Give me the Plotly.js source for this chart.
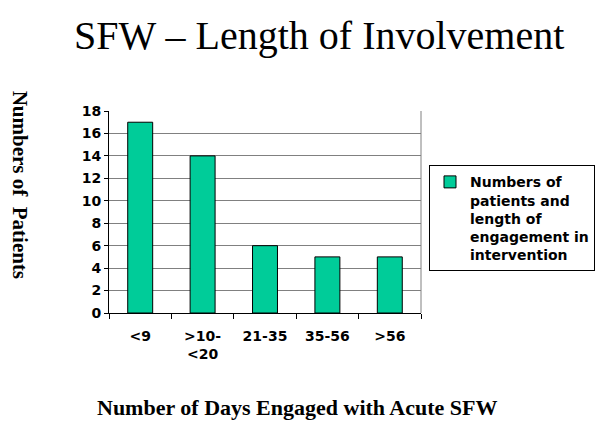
<!DOCTYPE html>
<html>
<head>
<meta charset="utf-8">
<script src="https://cdn.plot.ly/plotly-3.0.1.min.js"></script>
<style>
  html, body { margin: 0; padding: 0; background: #ffffff; }
  #chart { width: 600px; height: 426px; }
</style>
</head>
<body>
<div id="chart"></div>
<script>
// categories and values
const dayRanges = ["<9", ">10-<br><20", "21-35", "35-56", ">56"];
const patientCounts = [17, 14, 6, 5, 5];
const seriesName = "<b>Numbers of<br>patients and<br>length of<br>engagement in<br>intervention</b>";
const yTicks = [0, 2, 4, 6, 8, 10, 12, 14, 16, 18];

const sansBold = { family: "DejaVu Sans, Arial, sans-serif", size: 14, color: "#000000", weight: "bold" };

const barTrace = {
  x: dayRanges,
  y: patientCounts,
  type: "bar",
  name: seriesName,
  width: 0.4,
  marker: { color: "#00cc99", line: { color: "#000000", width: 1 } },
  showlegend: true,
};

const layout = {
  width: 600,
  height: 426,
  margin: { l: 109, r: 179, t: 111, b: 113, autoexpand: false },
  paper_bgcolor: "#ffffff",
  plot_bgcolor: "#ffffff",
  title: {
    text: "SFW – Length of Involvement",
    font: { family: "Liberation Serif, Times New Roman, serif", size: 40, color: "#000000" },
    x: 0.532,
    xanchor: "center",
    y: 0.918,
    yanchor: "middle",
  },
  xaxis: {
    type: "category",
    showline: true,
    linecolor: "#000000",
    linewidth: 1,
    ticks: "outside",
    tickson: "boundaries",
    ticklen: 5,
    tickcolor: "#000000",
    tickvals: dayRanges,
    ticktext: dayRanges.map(d => "<b>" + d.replace("<br>", "</b><br><b>") + "</b>"),
    ticklabelstandoff: 10,
    tickfont: sansBold,
  },
  yaxis: {
    range: [0, 18],
    tickvals: yTicks,
    ticktext: yTicks.map(v => "<b>" + v + "</b>"),
    showline: true,
    linecolor: "#000000",
    linewidth: 1,
    ticks: "outside",
    ticklen: 4,
    tickcolor: "#000000",
    showgrid: true,
    gridcolor: "#808080",
    gridwidth: 1,
    zeroline: false,
    tickfont: sansBold,
  },
  shapes: [
    { type: "line", xref: "paper", yref: "paper", x0: 1, x1: 1, y0: 0, y1: 1, line: { color: "#808080", width: 1 } },
  ],
  annotations: [
    {
      text: "<b>Numbers of  Patients</b>",
      xref: "paper", yref: "paper",
      x: -0.285, y: 0.635,
      xanchor: "center", yanchor: "middle",
      textangle: 90,
      showarrow: false,
      font: { family: "Liberation Serif, Times New Roman, serif", size: 21, color: "#000000" },
    },
    {
      text: "<b>Number of Days Engaged with Acute SFW</b>",
      xref: "paper", yref: "paper",
      x: 0.605, y: -0.47,
      xanchor: "center", yanchor: "middle",
      showarrow: false,
      font: { family: "Liberation Serif, Times New Roman, serif", size: 22, color: "#000000" },
    },
  ],
  legend: {
    xref: "container",
    yref: "container",
    x: 0.715,
    y: 0.612,
    xanchor: "left",
    yanchor: "top",
    valign: "top",
    bgcolor: "#ffffff",
    bordercolor: "#000000",
    borderwidth: 1,
    font: sansBold,
    itemwidth: 30,
    tracegroupgap: 0,
  },
  bargap: 0.6,
};

Plotly.newPlot("chart", [barTrace], layout, { displayModeBar: false, staticPlot: true });
</script>
</body>
</html>
